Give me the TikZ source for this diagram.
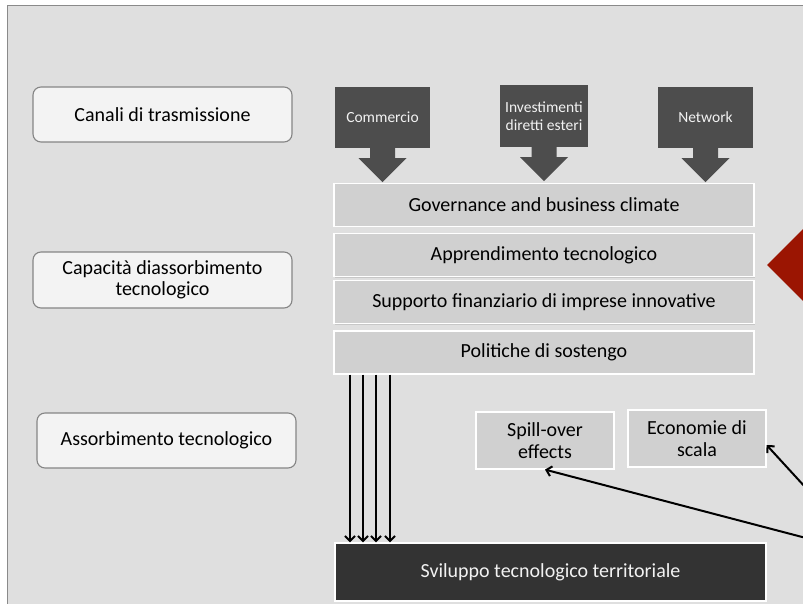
\documentclass[tikz,border=0pt]{standalone}
\usepackage{fontspec}
\setmainfont{Carlito}
\usetikzlibrary{arrows.meta,calc,shadows}
\definecolor{bgc}{HTML}{DFDFDF}
\definecolor{framec}{HTML}{8A8A8A}
\definecolor{lboxc}{HTML}{F3F3F3}
\definecolor{lborder}{HTML}{858585}
\definecolor{barc}{HTML}{D0D0D0}
\definecolor{darkarr}{HTML}{4D4D4D}
\definecolor{darkbox}{HTML}{333333}
\definecolor{lighttext}{HTML}{F2F2F2}
\definecolor{redd}{HTML}{9B1502}
\tikzset{
  leftbox/.style={draw=lborder, line width=1.1pt, fill=lboxc, rounded corners=8pt,
    minimum width=259pt, minimum height=55pt, align=center, inner sep=0pt,
    font=\fontsize{20}{21}\selectfont, text=black},
  barbox/.style={draw=white, line width=1.2pt, fill=barc, minimum width=420pt,
    minimum height=43pt, inner sep=0pt, font=\fontsize{20}{22}\selectfont, text=black,
    drop shadow={shadow xshift=1pt, shadow yshift=-1pt, opacity=0.25}},
  smallbox/.style={draw=white, line width=1.2pt, fill=barc, minimum width=138pt,
    minimum height=57pt, inner sep=0pt, align=center, font=\fontsize{20}{22}\selectfont, text=black,
    drop shadow={shadow xshift=1pt, shadow yshift=-1pt, opacity=0.25}},
  chanbox/.style={fill=darkarr, minimum height=61pt, inner sep=0pt, align=center,
    font=\fontsize{15.5}{18}\selectfont, text=lighttext},
  chanarrow/.style={fill=darkarr},
  downarr/.style={line width=2pt, -{Straight Barb[length=5pt,width=10pt,line width=2pt]}},
  sidearr/.style={line width=2pt, -{Straight Barb[length=5pt,width=10pt,line width=2pt]}}
}
\begin{document}
\begin{tikzpicture}[x=1pt,y=-1pt]
\useasboundingbox (0,0) rectangle (803,604);
\begin{scope}
\clip (0,0) rectangle (803,604);
% background frame
\fill[white] (0,0) rectangle (803,604);
\filldraw[fill=bgc, draw=framec, line width=1pt] (7,6) rectangle (820,620);

% left labels
\node[leftbox] (canali) at (162.5,114.5) {Canali di trasmissione};
\node[leftbox, minimum height=56pt] (capacita) at (162.5,280) {Capacità diassorbimento\\tecnologico};
\node[leftbox] (assorb) at (166.5,440.5) {Assorbimento tecnologico};

% channels (block arrows)
\node[chanbox, minimum width=95pt] (comm) at (382.5,117.5) {Commercio};
\node[chanbox, minimum width=88pt, minimum height=62pt] (inv) at (544,116) {Investimenti\\diretti esteri};
\node[chanbox, minimum width=95pt] (net) at (705.5,117.5) {Network};
\foreach \n in {comm,inv,net}{
  \fill[chanarrow] ($(\n.south)+(-12.5,-1)$) -- ++(0,11) -- ++(-11.5,0) -- ++(24,24) -- ++(24,-24) -- ++(-11.5,0) -- ++(0,-11) -- cycle;
}

% absorption capacity bars
\node[barbox] (gov) at (544,205) {Governance and business climate};
\node[barbox] (app) at (544,255) {Apprendimento tecnologico};
\node[barbox] (sup) at (544,302) {Supporto finanziario di imprese innovative};
\node[barbox] (pol) at (544,352.5) {Politiche di sostengo};

% red diamond (cut by the edge)
\fill[redd] (767,265) -- (805,227) -- (843,265) -- (805,303) -- cycle;

% small boxes
\node[smallbox] (spill) at (545,440.5) {Spill-over\\effects};
\node[smallbox] (econ) at (697,438.5) {Economie di\\scala};

% bottom dark box
\node[draw=white, line width=1.2pt, fill=darkbox, minimum width=431pt, minimum height=58pt,
  inner sep=0pt, font=\fontsize{20}{22}\selectfont, text=lighttext] (svil) at (550.5,572)
  {Sviluppo tecnologico territoriale};

% four arrows
\foreach \xx in {350,363,376,390}{
  \draw[downarr] (pol.south -| \xx,0) -- (svil.north -| \xx,0);
}

% arrows from the right edge
\coordinate (rA) at (806,488);
\coordinate (rB) at (806,538);
\draw[sidearr] (rA) -- ($(econ.east)+(0,6.5)$);
\draw[sidearr] (rB) -- (spill.south);
\end{scope}
\end{tikzpicture}
\end{document}
